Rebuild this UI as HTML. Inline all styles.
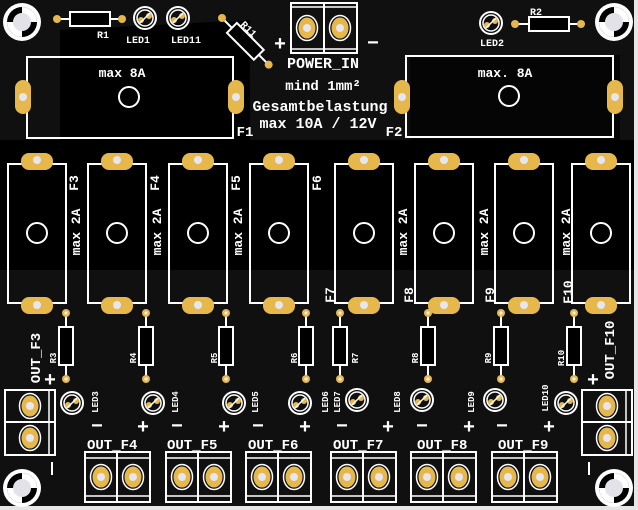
<!DOCTYPE html>
<html><head><meta charset="utf-8"><style>
html,body{margin:0;padding:0;background:#e6e6e6;width:638px;height:510px;overflow:hidden}
svg{display:block}
text{font-family:"Liberation Mono","DejaVu Sans Mono",monospace;fill:#fff;font-weight:bold}
</style></head><body>
<svg width="638" height="510" viewBox="0 0 638 510" xmlns="http://www.w3.org/2000/svg">
<defs>
<g id="hole"><circle r="19" fill="#fff"/><circle r="15" fill="#000"/><path d="M0,-15 A15,15 0 0 1 15,0 L0,0Z M0,15 A15,15 0 0 1 -15,0 L0,0Z" fill="#fff"/><circle r="9" fill="#e2e2e8"/></g>
<g id="led"><circle r="11" fill="none" stroke="#fff" stroke-width="2"/><circle r="8" fill="none" stroke="#fff" stroke-width="1.5"/><circle cx="-4" cy="2" r="3" fill="#e6b84c"/><circle cx="4" cy="-2" r="3" fill="#e6b84c"/><line x1="-5" y1="5" x2="5" y2="-5" stroke="#fff" stroke-width="1.5"/></g>
<g id="vres"><line x1="0" y1="0" x2="0" y2="66" stroke="#fff" stroke-width="2"/><rect x="-7" y="14" width="14" height="38" fill="#000" stroke="#fff" stroke-width="2"/><circle cx="0" cy="0" r="4" fill="#e6b84c"/><circle cx="0" cy="66" r="4" fill="#e6b84c"/><circle cx="0" cy="0" r="1.6" fill="#eee"/><circle cx="0" cy="66" r="1.6" fill="#eee"/></g>
<g id="fuse"><rect x="-24" y="0" width="58" height="139" fill="none" stroke="#fff" stroke-width="2"/><rect x="-11" y="-11" width="32" height="17" rx="8" fill="#e6b84c"/><rect x="-11" y="133" width="32" height="17" rx="8" fill="#e6b84c"/><circle cx="5" cy="-4" r="4" fill="#e6e6ee"/><circle cx="5" cy="141" r="4" fill="#e6e6ee"/><circle cx="5" cy="69" r="10" fill="none" stroke="#fff" stroke-width="2"/></g>
<g id="pad"><ellipse rx="8.5" ry="10.5" fill="#e6b84c"/><ellipse rx="10.5" ry="12.5" fill="none" stroke="#fff" stroke-width="1.5"/><circle r="4" fill="#e6e6ee"/></g>
<g id="conn"><rect x="0" y="0" width="65" height="50" fill="none" stroke="#fff" stroke-width="2"/><line x1="32" y1="0" x2="32" y2="50" stroke="#fff" stroke-width="2"/><line x1="0" y1="6" x2="65" y2="6" stroke="#fff" stroke-width="1.5"/><line x1="0" y1="44" x2="65" y2="44" stroke="#fff" stroke-width="1.5"/><use href="#pad" x="16" y="25"/><use href="#pad" x="48" y="25"/></g>
<g id="vconn"><rect x="0" y="0" width="50" height="65" fill="none" stroke="#fff" stroke-width="2"/><line x1="0" y1="32" x2="50" y2="32" stroke="#fff" stroke-width="2"/><line x1="44" y1="0" x2="44" y2="65" stroke="#fff" stroke-width="1.5"/><use href="#pad" x="25" y="16"/><use href="#pad" x="25" y="48"/></g>
</defs>
<rect x="0" y="0" width="634" height="506" fill="#101010"/>
<polygon points="60,30 250,20 250,150 60,150" fill="#000"/>
<polygon points="410,55 620,55 620,140 410,140" fill="#050505"/>
<rect x="0" y="140" width="634" height="130" fill="#000"/>
<use href="#hole" x="22" y="22"/><use href="#hole" x="614" y="22"/>
<use href="#hole" x="22" y="488"/><use href="#hole" x="614" y="488"/>
<line x1="57" y1="19" x2="122" y2="19" stroke="#fff" stroke-width="2"/>
<rect x="70" y="12" width="40" height="14" fill="#000" stroke="#fff" stroke-width="2"/>
<circle cx="57" cy="19" r="4" fill="#e6b84c"/><circle cx="122" cy="19" r="4" fill="#e6b84c"/>
<text x="103" y="38" font-size="10" text-anchor="middle">R1</text>
<use href="#led" x="145" y="18"/><text x="138" y="43" font-size="10" text-anchor="middle">LED1</text>
<use href="#led" x="178" y="18"/><text x="186" y="43" font-size="10" text-anchor="middle">LED11</text>
<g transform="translate(222,18) rotate(45)"><line x1="0" y1="0" x2="66" y2="0" stroke="#fff" stroke-width="2"/><rect x="14" y="-7" width="38" height="14" fill="#000" stroke="#fff" stroke-width="2"/><circle r="4" fill="#e6b84c"/><circle cx="66" r="4" fill="#e6b84c"/></g>
<text x="0" y="0" font-size="10" transform="translate(240,25) rotate(45)">R11</text>
<use href="#led" x="491" y="23"/><text x="492" y="46" font-size="10" text-anchor="middle">LED2</text>
<line x1="515" y1="24" x2="581" y2="24" stroke="#fff" stroke-width="2"/>
<rect x="529" y="17" width="40" height="14" fill="#000" stroke="#fff" stroke-width="2"/>
<circle cx="515" cy="24" r="4" fill="#e6b84c"/><circle cx="581" cy="24" r="4" fill="#e6b84c"/>
<text x="536" y="15" font-size="10" text-anchor="middle">R2</text>
<rect x="291" y="3" width="66" height="50" fill="none" stroke="#fff" stroke-width="2"/>
<line x1="324" y1="3" x2="324" y2="53" stroke="#fff" stroke-width="2"/>
<line x1="291" y1="7" x2="357" y2="7" stroke="#fff" stroke-width="1.5"/>
<line x1="291" y1="49" x2="357" y2="49" stroke="#fff" stroke-width="1.5"/>
<use href="#pad" x="307" y="28"/><use href="#pad" x="340" y="28"/>
<text x="280" y="50" font-size="20" text-anchor="middle" font-weight="normal">+</text>
<text x="373" y="49" font-size="20" text-anchor="middle" font-weight="normal">−</text>
<text x="323" y="68" font-size="15" text-anchor="middle">POWER_IN</text>
<text x="323" y="90" font-size="14" text-anchor="middle">mind 1mm²</text>
<text x="320" y="111" font-size="15" text-anchor="middle">Gesamtbelastung</text>
<text x="318" y="128" font-size="15" text-anchor="middle">max 10A / 12V</text>
<rect x="27" y="57" width="206" height="81" fill="none" stroke="#fff" stroke-width="2"/>
<rect x="15" y="80" width="16" height="34" rx="8" fill="#e6b84c"/><circle cx="23" cy="97" r="4" fill="#e6e6ee"/>
<rect x="228" y="80" width="16" height="34" rx="8" fill="#e6b84c"/><circle cx="236" cy="97" r="4" fill="#e6e6ee"/>
<circle cx="129" cy="97" r="10" fill="none" stroke="#fff" stroke-width="2"/>
<text x="122" y="77" font-size="13" text-anchor="middle">max 8A</text>
<text x="245" y="136" font-size="14" text-anchor="middle">F1</text>
<rect x="406" y="56" width="207" height="81" fill="none" stroke="#fff" stroke-width="2"/>
<rect x="394" y="80" width="16" height="34" rx="8" fill="#e6b84c"/><circle cx="402" cy="97" r="4" fill="#e6e6ee"/>
<rect x="607" y="80" width="16" height="34" rx="8" fill="#e6b84c"/><circle cx="615" cy="97" r="4" fill="#e6e6ee"/>
<circle cx="509" cy="96" r="10" fill="none" stroke="#fff" stroke-width="2"/>
<text x="505" y="77" font-size="13" text-anchor="middle">max. 8A</text>
<text x="394" y="136" font-size="14" text-anchor="middle">F2</text>
<use href="#fuse" x="32" y="164"/><use href="#fuse" x="112" y="164"/>
<use href="#fuse" x="193" y="164"/><use href="#fuse" x="274" y="164"/>
<use href="#fuse" x="359" y="164"/><use href="#fuse" x="439" y="164"/>
<use href="#fuse" x="519" y="164"/><use href="#fuse" x="596" y="164"/>
<g font-size="13">
<text transform="translate(80,232) rotate(-90)" text-anchor="middle">max 2A</text>
<text transform="translate(161,232) rotate(-90)" text-anchor="middle">max 2A</text>
<text transform="translate(242,232) rotate(-90)" text-anchor="middle">max 2A</text>
<text transform="translate(407,232) rotate(-90)" text-anchor="middle">max 2A</text>
<text transform="translate(488,232) rotate(-90)" text-anchor="middle">max 2A</text>
<text transform="translate(570,232) rotate(-90)" text-anchor="middle">max 2A</text>
<text transform="translate(78,183) rotate(-90)" text-anchor="middle">F3</text>
<text transform="translate(159,183) rotate(-90)" text-anchor="middle">F4</text>
<text transform="translate(240,183) rotate(-90)" text-anchor="middle">F5</text>
<text transform="translate(321,183) rotate(-90)" text-anchor="middle">F6</text>
<text transform="translate(334,295) rotate(-90)" text-anchor="middle">F7</text>
<text transform="translate(413,295) rotate(-90)" text-anchor="middle">F8</text>
<text transform="translate(494,295) rotate(-90)" text-anchor="middle">F9</text>
<text transform="translate(572,292) rotate(-90)" text-anchor="middle">F10</text>
</g>
<use href="#vres" x="66" y="313"/><use href="#vres" x="146" y="313"/>
<use href="#vres" x="226" y="313"/><use href="#vres" x="306" y="313"/>
<use href="#vres" x="340" y="313"/><use href="#vres" x="428" y="313"/>
<use href="#vres" x="501" y="313"/><use href="#vres" x="574" y="313"/>
<g font-size="9">
<text transform="translate(56,358) rotate(-90)" text-anchor="middle">R3</text>
<text transform="translate(136,358) rotate(-90)" text-anchor="middle">R4</text>
<text transform="translate(217,358) rotate(-90)" text-anchor="middle">R5</text>
<text transform="translate(297,358) rotate(-90)" text-anchor="middle">R6</text>
<text transform="translate(358,358) rotate(-90)" text-anchor="middle">R7</text>
<text transform="translate(418,358) rotate(-90)" text-anchor="middle">R8</text>
<text transform="translate(491,358) rotate(-90)" text-anchor="middle">R9</text>
<text transform="translate(564,358) rotate(-90)" text-anchor="middle">R10</text>
<text transform="translate(98,402) rotate(-90)" text-anchor="middle">LED3</text>
<text transform="translate(178,402) rotate(-90)" text-anchor="middle">LED4</text>
<text transform="translate(258,402) rotate(-90)" text-anchor="middle">LED5</text>
<text transform="translate(328,402) rotate(-90)" text-anchor="middle">LED6</text>
<text transform="translate(340,402) rotate(-90)" text-anchor="middle">LED7</text>
<text transform="translate(400,402) rotate(-90)" text-anchor="middle">LED8</text>
<text transform="translate(474,402) rotate(-90)" text-anchor="middle">LED9</text>
<text transform="translate(548,398) rotate(-90)" text-anchor="middle">LED10</text>
</g>
<use href="#led" x="72" y="403"/><use href="#led" x="153" y="403"/>
<use href="#led" x="234" y="403"/><use href="#led" x="300" y="403"/>
<use href="#led" x="357" y="400"/><use href="#led" x="422" y="400"/>
<use href="#led" x="495" y="400"/><use href="#led" x="566" y="403"/>
<g font-size="20" font-weight="normal" text-anchor="middle">
<text x="97" y="432">−</text><text x="143" y="433">+</text>
<text x="177" y="432">−</text><text x="224" y="433">+</text>
<text x="258" y="432">−</text><text x="305" y="433">+</text>
<text x="342" y="432">−</text><text x="388" y="433">+</text>
<text x="422" y="432">−</text><text x="469" y="433">+</text>
<text x="502" y="432">−</text><text x="549" y="433">+</text>
<text x="50" y="386">+</text><text x="593" y="386">+</text>
</g>
<line x1="52" y1="462" x2="52" y2="475" stroke="#fff" stroke-width="2"/>
<line x1="589" y1="462" x2="589" y2="475" stroke="#fff" stroke-width="2"/>
<use href="#conn" x="85" y="452"/><use href="#conn" x="166" y="452"/>
<use href="#conn" x="246" y="452"/><use href="#conn" x="331" y="452"/>
<use href="#conn" x="411" y="452"/><use href="#conn" x="492" y="452"/>
<g font-size="14">
<text x="87" y="449">OUT_F4</text><text x="167" y="449">OUT_F5</text>
<text x="248" y="449">OUT_F6</text><text x="333" y="449">OUT_F7</text>
<text x="417" y="449">OUT_F8</text><text x="498" y="449">OUT_F9</text>
<text transform="translate(40,358) rotate(-90)" text-anchor="middle">OUT_F3</text>
<text transform="translate(614,350) rotate(-90)" text-anchor="middle">OUT_F10</text>
</g>
<use href="#vconn" x="5" y="390"/>
<use href="#vconn" x="582" y="390"/>
</svg>
</body></html>
